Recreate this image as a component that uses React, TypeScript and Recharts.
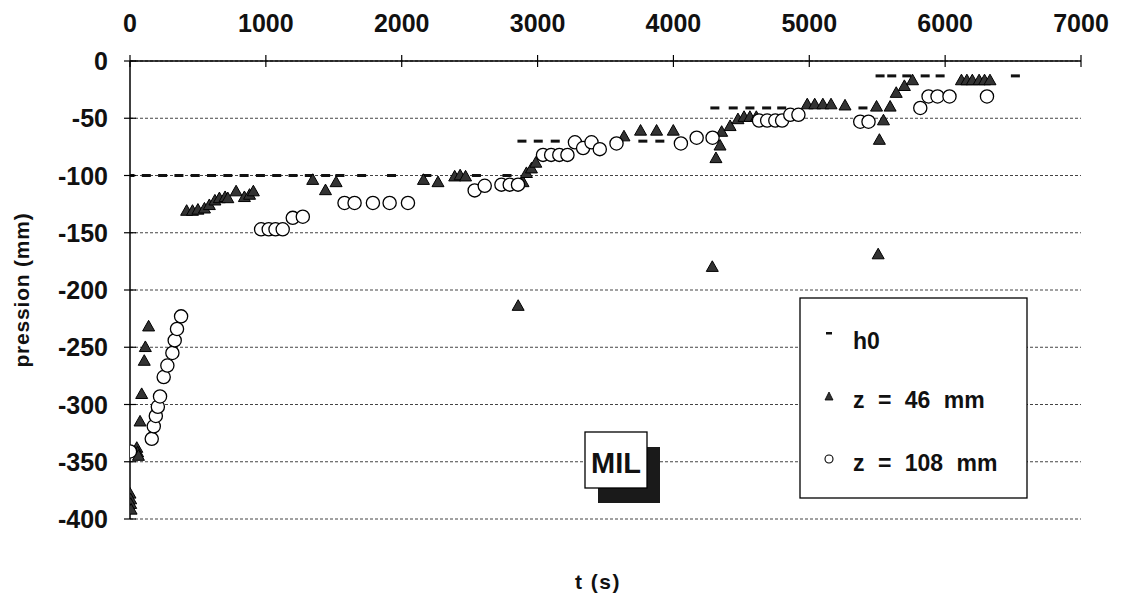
import React from 'react';
import { ScatterChart, Scatter, XAxis, YAxis, CartesianGrid } from 'recharts';

// ---- data ----
const xTicks = [0, 1000, 2000, 3000, 4000, 5000, 6000, 7000];
const yTicks = [0, -50, -100, -150, -200, -250, -300, -350, -400];

const h0Times = [0, 120, 240, 360, 480, 600, 720, 840, 960, 1080, 1200, 1320, 1440, 1545, 1705, 1925, 2185, 2550, 2775,
  2885, 3005, 3130, 3775, 3900,
  4305, 4440, 4563, 4686, 4797, 5395,
  5521, 5607, 5718, 5853, 5963, 6517];
const h0Values = [-100, -100, -100, -100, -100, -100, -100, -100, -100, -100, -100, -100, -100, -100, -100, -100, -100, -100, -100,
  -70, -70, -70, -70, -70,
  -41, -41, -41, -41, -41, -41,
  -13, -13, -13, -13, -13, -13];

const z46Times = [0, 5, 5, 8, 50, 56, 62, 74, 86, 105, 113, 137,
  417, 460, 500, 548, 584, 625, 658, 700, 720, 781, 842, 880, 908,
  1345, 1439, 1517, 2160, 2267, 2390, 2430, 2470,
  2857, 2893, 2918, 2955, 2987,
  3636, 3758, 3876, 3999,
  4286, 4313, 4343, 4355, 4417, 4475, 4520, 4563, 4610,
  4985, 5040, 5100, 5160, 5263,
  5495, 5507, 5516, 5546, 5595, 5640, 5700, 5760,
  6120, 6160, 6200, 6250, 6290, 6330];
const z46Values = [-378, -383, -387, -392, -338, -342, -345, -315, -291, -262, -250, -232,
  -131, -131, -130, -129, -126, -122, -120, -119, -120, -114, -119, -117, -114,
  -104, -113, -106, -104, -106, -101, -100, -101,
  -214, -106, -98, -94, -89,
  -66, -61, -61, -61,
  -180, -85, -74, -62, -57, -51, -49, -49, -49,
  -38, -38, -38, -38, -39,
  -40, -169, -69, -52, -40, -28, -22, -17,
  -17, -17, -17, -17, -17, -17];

const z108Times = [0, 160, 175, 190, 205, 221, 248, 275, 312, 329, 346, 376,
  965, 1021, 1071, 1124, 1198, 1272,
  1579, 1653, 1788, 1911, 2046,
  2537, 2611, 2734, 2795, 2856,
  3040, 3100, 3160, 3220, 3275, 3335, 3397, 3458, 3581,
  4055, 4171, 4288,
  4630, 4690, 4750, 4800, 4860, 4920,
  5375, 5436, 5817, 5878, 5944, 6032, 6308];
const z108Values = [-341, -330, -319, -310, -302, -293, -276, -266, -255, -244, -234, -223,
  -147, -147, -147, -147, -137, -136,
  -124, -124, -124, -124, -124,
  -113, -109, -108, -108, -108,
  -82, -82, -82, -82, -71, -76, -71, -77, -72,
  -72, -67, -67,
  -52, -52, -52, -52, -47, -47,
  -53, -53, -41, -31, -31, -31, -31];

const toPoints = (ts: number[], vs: number[]) => ts.map((t, i) => ({ t, p: vs[i] }));
const h0Data = toPoints(h0Times, h0Values);
const z46Data = toPoints(z46Times, z46Values);
const z108Data = toPoints(z108Times, z108Values);

const FONT = '"Liberation Sans", Arial, Helvetica, sans-serif';
const TICK_SIZE = 6;
const X_MARGIN = 23;
const Y_MARGIN = 16;

// ---- marker shapes ----
const TriangleShape = (props: any) => {
  const { cx, cy } = props;
  if (cx == null || cy == null) return null;
  return (
    <path
      d={`M${cx},${cy - 6.3} L${cx + 6},${cy + 4.3} L${cx - 6},${cy + 4.3} Z`}
      fill="#333"
      stroke="#000"
      strokeWidth={1}
    />
  );
};
const CircleShape = (props: any) => {
  const { cx, cy } = props;
  if (cx == null || cy == null) return null;
  return <circle cx={cx} cy={cy} r={6.6} fill="#fff" stroke="#000" strokeWidth={1.3} />;
};
const DashShape = (props: any) => {
  const { cx, cy } = props;
  if (cx == null || cy == null) return null;
  return <rect x={cx - 4.5} y={cy - 1.5} width={9} height={3} fill="#111" />;
};

// ---- ticks with crossing tick marks ----
const XTick = (props: any) => {
  const { x, y, payload } = props;
  const axisY = y + TICK_SIZE + X_MARGIN;
  return (
    <g>
      <line x1={x} x2={x} y1={axisY - 6} y2={axisY + 6} stroke="#000" strokeWidth={1.2} />
      <text x={x} y={y} textAnchor="middle" fontFamily={FONT} fontWeight={700} fontSize={25} fill="#111">
        {payload.value}
      </text>
    </g>
  );
};
const YTick = (props: any) => {
  const { x, y, payload } = props;
  const axisX = x + TICK_SIZE + Y_MARGIN;
  return (
    <g>
      <line x1={axisX - 6} x2={axisX + 6} y1={y} y2={y} stroke="#000" strokeWidth={1.2} />
      <text x={x} y={y + 9} textAnchor="end" fontFamily={FONT} fontWeight={700} fontSize={25} fill="#111">
        {payload.value}
      </text>
    </g>
  );
};

export default function App() {
  return (
    <div style={{ position: 'absolute', left: 0, top: 0, width: 1123, height: 601, background: '#fff', fontFamily: FONT }}>
      <ScatterChart width={1123} height={601} margin={{ top: 21, right: 42, bottom: 82, left: 10 }}>
        <CartesianGrid horizontal vertical={false} stroke="#444" strokeDasharray="3 2" strokeWidth={1} />
        <XAxis
          type="number"
          dataKey="t"
          orientation="top"
          domain={[0, 7000]}
          ticks={xTicks}
          interval={0}
          height={40}
          tickSize={TICK_SIZE}
          tickMargin={X_MARGIN}
          tickLine={false}
          axisLine={{ stroke: '#000', strokeWidth: 1.5 }}
          tick={<XTick />}
          allowDataOverflow
        />
        <YAxis
          type="number"
          dataKey="p"
          domain={[-400, 0]}
          ticks={yTicks}
          interval={0}
          width={120}
          tickSize={TICK_SIZE}
          tickMargin={Y_MARGIN}
          tickLine={false}
          axisLine={{ stroke: '#000', strokeWidth: 1.5 }}
          tick={<YTick />}
          allowDataOverflow
        />
        <Scatter name="h0" data={h0Data} shape={DashShape} isAnimationActive={false} />
        <Scatter name="z = 46 mm" data={z46Data} shape={TriangleShape} isAnimationActive={false} />
        <Scatter name="z = 108 mm" data={z108Data} shape={CircleShape} isAnimationActive={false} />
      </ScatterChart>

      <svg width={1123} height={601} style={{ position: 'absolute', left: 0, top: 0, pointerEvents: 'none' }}>
        {/* axis titles */}
        <text
          transform="translate(29,290) rotate(-90)"
          textAnchor="middle"
          fontFamily={FONT}
          fontWeight={700}
          fontSize={21}
          letterSpacing={0.8}
          fill="#111"
        >
          pression (mm)
        </text>
        <text x={598} y={589} textAnchor="middle" fontFamily={FONT} fontWeight={700} fontSize={21} fill="#111" letterSpacing={1.5} style={{ whiteSpace: 'pre' }}>
          t (s)
        </text>

        {/* MIL label */}
        <rect x={598} y={447} width={62} height={56} fill="#1a1a1a" />
        <rect x={585} y={432} width={62} height={56} fill="#fff" stroke="#000" strokeWidth={1.3} />
        <text x={616} y={473} textAnchor="middle" fontFamily={FONT} fontWeight={700} fontSize={29} fill="#111">
          MIL
        </text>

        {/* legend */}
        <rect x={800} y={298} width={227} height={200} fill="#fff" stroke="#000" strokeWidth={1.3} />
        <rect x={826} y={332} width={6} height={2.5} fill="#111" />
        <text x={853} y={349} fontFamily={FONT} fontWeight={700} fontSize={23} fill="#111">
          h0
        </text>
        <path d="M829,392 L833,400 L825,400 Z" fill="#333" stroke="#000" strokeWidth={0.8} />
        <text x={853} y={408} fontFamily={FONT} fontWeight={700} fontSize={23} fill="#111" wordSpacing={7} style={{ whiteSpace: 'pre' }}>
          z = 46 mm
        </text>
        <circle cx={829} cy={459} r={4} fill="#fff" stroke="#000" strokeWidth={1.1} />
        <text x={853} y={471} fontFamily={FONT} fontWeight={700} fontSize={23} fill="#111" wordSpacing={7} style={{ whiteSpace: 'pre' }}>
          z = 108 mm
        </text>
      </svg>
    </div>
  );
}
